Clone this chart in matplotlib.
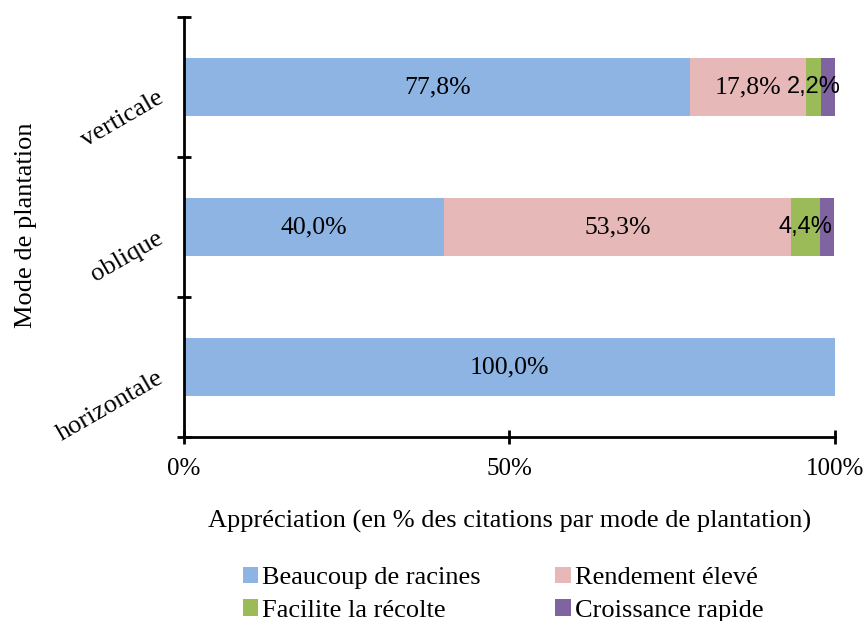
import numpy as np
import matplotlib
matplotlib.use("Agg")
import matplotlib.pyplot as plt
from matplotlib.ticker import FixedLocator, PercentFormatter

modes = ["horizontale", "oblique", "verticale"]
series = ["Beaucoup de racines", "Rendement élevé", "Facilite la récolte", "Croissance rapide"]
racines = [100.0, 40.0, 77.8]
rendement = [0.0, 53.3, 17.8]
recolte = [0.0, 4.4, 2.2]
croissance = [0.0, 2.2, 2.2]

colors = ["#8EB4E3", "#E6B9B8", "#9BBB59", "#8064A2"]
serif = "Liberation Serif"
sans = "Liberation Sans"

fig = plt.figure(figsize=(8.65, 6.21), dpi=100)
ax = fig.add_axes([0.2127, 0.2963, 0.7526, 0.6763])

y = np.arange(len(modes))
left = np.zeros(len(modes))
handles = []
for name, vals, col in zip(series, [racines, rendement, recolte, croissance], colors):
    vals = np.array(vals)
    h = ax.barh(y, vals, left=left, height=0.41, color=col, label=name)
    handles.append(h)
    left = left + vals


def pct(v):
    return f"{v:.1f}%".replace(".", ",")


# value labels: serif for the two large segments, sans for the small green one
for i in range(len(modes)):
    if racines[i] > 0:
        ax.text(racines[i] / 2, y[i], pct(racines[i]),
                ha="center", va="center", fontsize=18.5, family=serif)
    if rendement[i] > 0:
        ax.text(racines[i] + rendement[i] / 2, y[i], pct(rendement[i]),
                ha="center", va="center", fontsize=18.5, family=serif)
    if recolte[i] > 0:
        ax.text(racines[i] + rendement[i] + recolte[i] / 2, y[i], pct(recolte[i]),
                ha="center", va="center", fontsize=17, family=sans)

ax.set_xlim(0, 100)
ax.set_ylim(-0.5, 2.5)

for s in ["top", "right"]:
    ax.spines[s].set_visible(False)
ax.spines["left"].set_linewidth(2)
ax.spines["bottom"].set_linewidth(2)

ax.xaxis.set_major_locator(FixedLocator([0, 50, 100]))
ax.xaxis.set_major_formatter(PercentFormatter(decimals=0))
ax.tick_params(axis="x", direction="inout", length=10, width=2, pad=10)

ax.yaxis.set_major_locator(FixedLocator([-0.5, 0.5, 1.5, 2.5]))
ax.yaxis.set_minor_locator(FixedLocator(y))
ax.set_yticklabels([])
ax.set_yticklabels(modes, minor=True)
ax.tick_params(axis="y", which="major", direction="inout", length=10, width=2)
ax.tick_params(axis="y", which="minor", length=0, pad=20)
for lab in ax.get_yticklabels(minor=True):
    lab.set_rotation(30)
    lab.set_ha("right")
    lab.set_va("top")
    lab.set_rotation_mode("anchor")
    lab.set_fontsize(19)
    lab.set_family(serif)
for lab in ax.get_xticklabels():
    lab.set_fontsize(18)
    lab.set_family(serif)

ax.set_xlabel("Appréciation (en % des citations par mode de plantation)",
              fontsize=19, family=serif, labelpad=22)
ax.set_ylabel("Mode de plantation", fontsize=19, family=serif)
ax.yaxis.set_label_coords(-0.226, 0.505)

# legend filled row by row: matplotlib fills columns first, so reorder
order = [0, 2, 1, 3]
fig.legend(handles=[handles[k] for k in order], labels=[series[k] for k in order],
           loc="lower left", ncol=2, bbox_to_anchor=(0.253, -0.04), frameon=False,
           prop={"family": serif, "size": 19}, handlelength=0.6, handleheight=0.6,
           handletextpad=0.15, columnspacing=2.8, labelspacing=0.38)

fig.savefig("out.png", dpi=100)
